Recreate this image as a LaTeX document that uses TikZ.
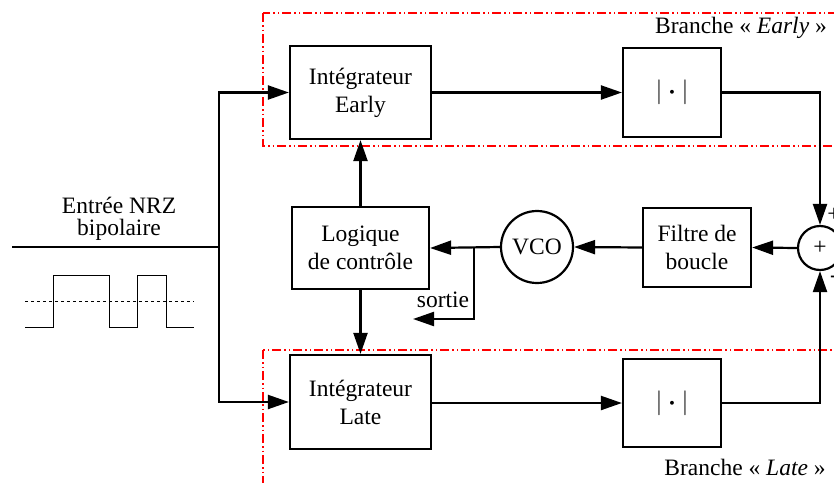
\documentclass[tikz,border=0pt]{standalone}
\usepackage{amsmath}
\usepackage{fontspec}
\setmainfont{Liberation Serif}
\usetikzlibrary{arrows.meta}
\begin{document}
\begin{tikzpicture}[x=1pt,y=-1pt,
  every node/.style={font=\fontsize{23.5}{28}\selectfont},
  blk/.style={draw,line width=2.2pt,rectangle,inner sep=0pt,align=center},
  rnd/.style={draw,line width=2.2pt,circle,inner sep=0pt},
  wire/.style={line width=2.2pt},
  arr/.style={wire,-{Triangle[length=21pt,width=14pt]}},
  absf/.style={font=\fontsize{30}{32}\selectfont},
  branchbox/.style={red,line width=1.2pt,dash pattern=on 9pt off 3pt on 1.5pt off 3pt on 1.5pt off 3pt},
  sig/.style={line width=0.9pt}]
\useasboundingbox (0,0) rectangle (834,482);
\begin{scope}
\clip (0,0) rectangle (834,482);
\draw[branchbox] (263,13) rectangle (900,146);
\draw[branchbox] (263,350) rectangle (900,520);
\end{scope}
\node[blk,minimum width=141pt,minimum height=93pt] (ie) at (360.5,92.5) {Intégrateur\\Early};
\node[blk,minimum width=98pt,minimum height=89pt,absf] (ae) at (672,92.5) {$|\boldsymbol{\cdot}|$};
\node[blk,minimum width=137pt,minimum height=82pt] (lg) at (360.5,248) {Logique\\de contrôle};
\node[rnd,minimum size=72pt] (vco) at (537,247) {VCO};
\node[blk,minimum width=108pt,minimum height=79pt] (fb) at (697,247.5) {Filtre de\\boucle};
\node[rnd,minimum size=44pt] (sum) at (820,248) {+};
\node[blk,minimum width=141pt,minimum height=94pt] (il) at (360.5,402) {Intégrateur\\Late};
\node[blk,minimum width=98pt,minimum height=88pt,absf] (al) at (672,403) {$|\boldsymbol{\cdot}|$};
\coordinate (in) at (12,247);
\coordinate (sp) at (219,247);
\coordinate (br) at (474,247);
\coordinate (so) at (413,319);
\draw[wire] (in) -- (sp);
\draw[arr] (sp) |- (ie.west);
\draw[arr] (sp) |- (il.west);
\draw[arr] (ie.east) -- (ae.west);
\draw[arr] (il.east |- al.west) -- (al.west);
\draw[arr] (ae.east) -| (sum.north);
\draw[arr] (al.east) -| (sum.south);
\draw[arr] (sum.west) -- (fb.east);
\draw[arr] (fb.west) -- (vco.east);
\draw[arr] (vco.west) -- (lg.east);
\draw[arr] (br) |- (so);
\draw[arr] (lg.north) -- (ie.south);
\draw[arr] (lg.south) -- (il.north);
\node (sortie) at (443,300) {sortie};
\node (plus) at (834,215) {+};
\node (minus) at (834,279) {-};
\node (ein) at (119,205) {Entrée NRZ};
\node (bip) at (119,230) {bipolaire};
\node (be) at (741,28) {Branche « \textit{Early} »};
\node (bl) at (745,467) {Branche « \textit{Late} »};
\draw[sig] (25,327) -- (53,327) -- (53,275) -- (109,275) -- (109,327) -- (137,327) -- (137,275) -- (166,275) -- (166,327) -- (194,327);
\draw[sig,dashed] (25,301) -- (194,301);
\end{tikzpicture}
\end{document}
